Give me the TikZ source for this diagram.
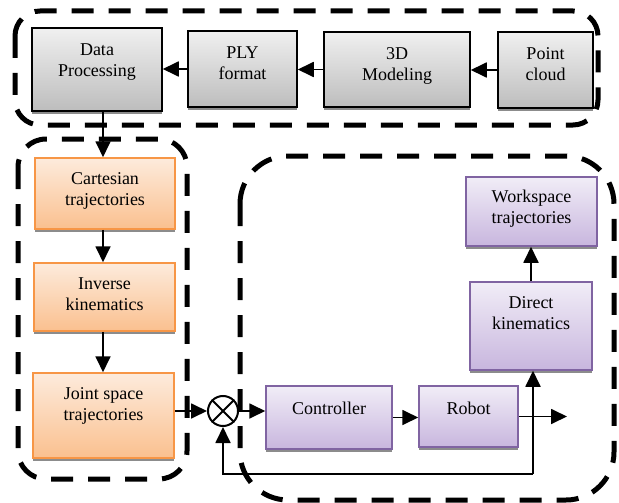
\documentclass[tikz,border=0pt]{standalone}
\usepackage{fontspec}
\setmainfont{Liberation Serif}
\usetikzlibrary{arrows.meta,shadows,positioning,calc}
\definecolor{orangeline}{HTML}{F79646}
\definecolor{orangetop}{HTML}{FDEBDC}
\definecolor{orangebot}{HTML}{FAC08F}
\definecolor{purpleline}{HTML}{8064A2}
\definecolor{purpletop}{HTML}{F1EDF7}
\definecolor{purplebot}{HTML}{C8B6DE}
\definecolor{graytop}{HTML}{F0F0F0}
\definecolor{graybot}{HTML}{BDBDBD}
\begin{document}
\begin{tikzpicture}[x=1pt,y=-1pt,
  box/.style={draw, line width=1.5pt, inner sep=0pt,
    drop shadow={shadow xshift=0pt, shadow yshift=-3pt, fill=black!45, opacity=1}},
  graybox/.style={box, draw=black, top color=graytop, bottom color=graybot},
  orangebox/.style={box, draw=orangeline, top color=orangetop, bottom color=orangebot},
  purplebox/.style={box, draw=purpleline, top color=purpletop, bottom color=purplebot},
  txt/.style={font=\fontsize{18}{21}\selectfont, align=center, inner sep=0pt},
  group/.style={line width=5pt, dash pattern=on 22pt off 15pt},
  conn/.style={line width=1.8pt, arrows={-Triangle[length=16pt,width=15pt]}},
  plain/.style={line width=1.8pt}
]
\useasboundingbox (0,0) rectangle (619,503);

% boxes
\node[graybox, minimum width=130pt, minimum height=83pt] (dp) at (97,69.5) {};
\node[graybox, minimum width=109pt, minimum height=76pt] (ply) at (242.5,69) {};
\node[graybox, minimum width=146pt, minimum height=75pt] (mod) at (397,69.5) {};
\node[graybox, minimum width=95pt, minimum height=76pt] (pc) at (545.5,70) {};
\node[orangebox, minimum width=140pt, minimum height=71pt] (cart) at (105,193.5) {};
\node[orangebox, minimum width=141pt, minimum height=68pt] (inv) at (104.5,297) {};
\node[orangebox, minimum width=141pt, minimum height=85pt] (joint) at (103.5,415.5) {};
\node[purplebox, minimum width=126pt, minimum height=63pt] (ctrl) at (329,417.5) {};
\node[purplebox, minimum width=99pt, minimum height=61pt] (robot) at (468.5,416.5) {};
\node[purplebox, minimum width=122pt, minimum height=88pt] (dk) at (531,326) {};
\node[purplebox, minimum width=131pt, minimum height=69pt] (ws) at (531.5,211.5) {};

% texts
\node[txt, below=16pt of dp.north] (dp-t) {Data\\Processing};
\node[txt, below=16pt of ply.north] (ply-t) {PLY\\format};
\node[txt, below=16pt of mod.north] (mod-t) {3D\\Modeling};
\node[txt, below=16pt of pc.north] (pc-t) {Point\\cloud};
\node[txt, below=15pt of cart.north] (cart-t) {Cartesian\\trajectories};
\node[txt, below=15pt of inv.north] (inv-t) {Inverse\\kinematics};
\node[txt, below=15.5pt of joint.north] (joint-t) {Joint space\\trajectories};
\node[txt, below=17pt of ctrl.north] (ctrl-t) {Controller};
\node[txt, below=17pt of robot.north] (robot-t) {Robot};
\node[txt, below=15pt of dk.north] (dk-t) {Direct\\kinematics};
\node[txt, below=14pt of ws.north] (ws-t) {Workspace\\trajectories};

% summing junction
\node[draw, circle, line width=2pt, minimum size=30pt, inner sep=0pt] (sum) at (223,411) {};
\draw[plain] (sum.north west) -- (sum.south east) (sum.north east) -- (sum.south west);

% connectors
\draw[conn] (pc.west) -- (pc.west -| mod.east);
\draw[conn] (mod.west) -- (mod.west -| ply.east);
\draw[conn] (ply.west) -- (ply.west -| dp.east);
\draw[conn] ($(dp.south)+(6,0)$) -- ($(cart.north)+(-2,0)$);
\draw[conn] ($(cart.south)+(-2,0)$) -- ($(inv.north)+(-1.5,0)$);
\draw[conn] ($(inv.south)+(-1.5,0)$) -- ($(joint.north)+(-0.5,0)$);
\draw[conn] (joint.east |- sum) -- (sum.west);
\draw[conn] (sum.east) -- (sum.east -| ctrl.west);
\draw[conn] (ctrl.east) -- (ctrl.east -| robot.west);
\coordinate (out) at (567,417);
\draw[conn] (robot.east) -- (robot.east -| out);
\coordinate (fb) at (533,474);
\draw[conn] (fb) -- (fb |- dk.south);
\draw[conn] (fb) -| (sum.south);
\draw[conn] (dk.north) -- (dk.north |- ws.south);

% dashed groups
\draw[group, rounded corners=25pt] (15,11) rectangle (598,125);
\draw[group, rounded corners=28pt] (18,139) rectangle (187,479);
\draw[group, rounded corners=48pt] (240,156) rectangle (614,500);
\end{tikzpicture}
\end{document}
